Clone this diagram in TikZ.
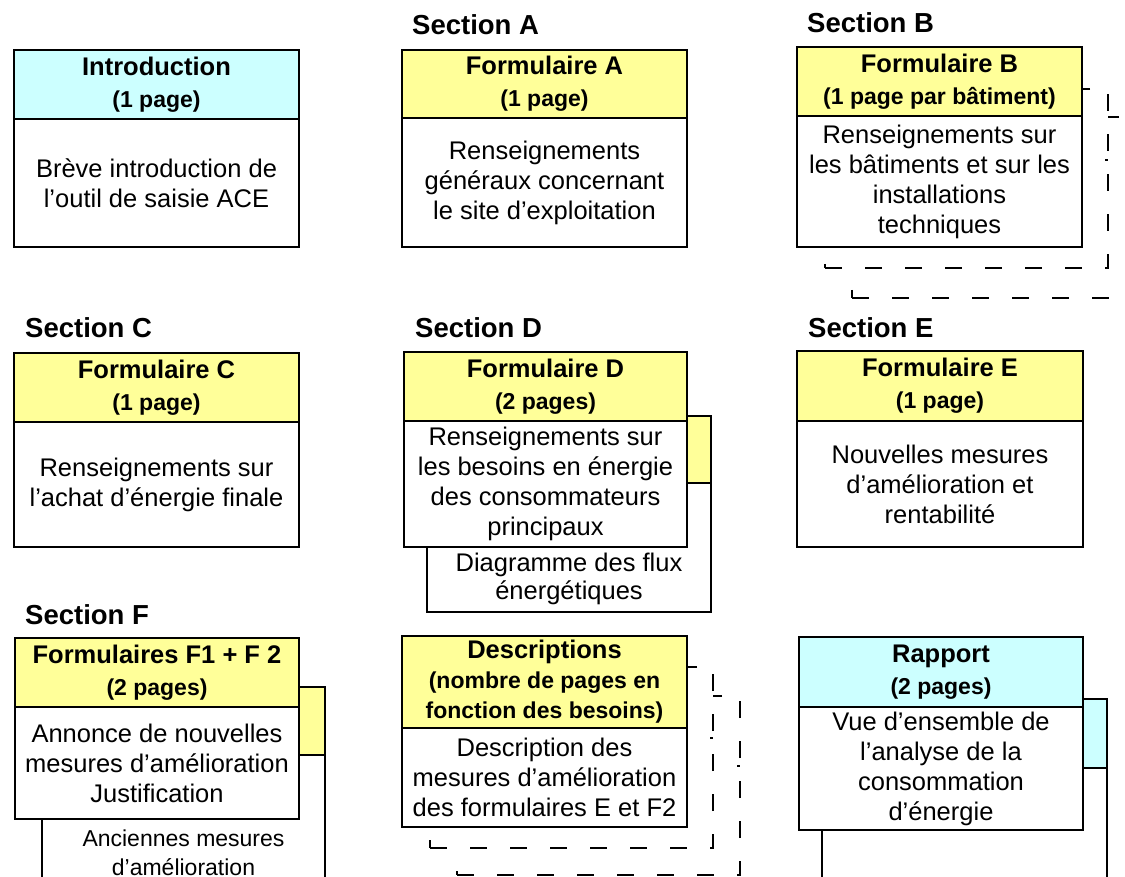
\documentclass[tikz,border=0pt]{standalone}
\usepackage{fontspec}
\setmainfont{Liberation Sans}
\definecolor{hyel}{RGB}{255,255,153}
\definecolor{hcyan}{RGB}{204,255,255}
\newcommand\subt[1]{{\fontsize{23}{32}\selectfont #1}}
\begin{document}
\begin{tikzpicture}[x=1pt,y=-1pt,
  box/.style={draw=black, line width=2.2pt, inner sep=0pt, outer sep=0pt, anchor=north west, align=center},
  hy/.style={box, fill=hyel, font=\fontsize{25.5}{32}\selectfont\bfseries},
  hc/.style={box, fill=hcyan, font=\fontsize{25.5}{32}\selectfont\bfseries},
  hyd/.style={box, fill=hyel, font=\fontsize{25.5}{30}\selectfont\bfseries},
  body/.style={box, fill=white, font=\fontsize{25.5}{30}\selectfont},
  plain/.style={inner sep=0pt, align=center, font=\fontsize{25.5}{28}\selectfont},
  small/.style={inner sep=0pt, align=center, font=\fontsize{23}{29}\selectfont},
  sec/.style={anchor=west, inner sep=0pt, font=\fontsize{27.5}{30}\selectfont\bfseries},
  ghost/.style={draw=black, line width=1.3pt, dash pattern=on 17pt off 23pt, fill=white, inner sep=0pt, outer sep=0pt, anchor=north west},
  ghostline/.style={draw=black, line width=1.3pt, dash pattern=on 17pt off 23pt}]
\useasboundingbox (0,0) rectangle (1125,877);
\clip (0,0) rectangle (1125,877);
\fill[white] (0,0) rectangle (1125,877);

% Introduction
\node[hc, minimum width=285pt, minimum height=69pt] (introH) at (14,50) {Introduction\\\subt{(1 page)}};
\node[body, minimum width=285pt, minimum height=128pt] (introB) at (14,119) {Brève introduction de\\l’outil de saisie ACE};

% Section A
\node[sec] (secA) at (412,25) {Section A};
\node[hy, minimum width=285pt, minimum height=68pt] (aH) at (402,50) {Formulaire A\\\subt{(1 page)}};
\node[body, minimum width=285pt, minimum height=129pt] (aB) at (402,118) {Renseignements\\généraux concernant\\le site d’exploitation};

% Section B
\node[sec] (secB) at (807,23) {Section B};
\node[ghost, minimum width=283pt, minimum height=181pt] (bG2) at (852,117) {};
\draw[ghostline] (bG2.west |- 0,188) -- (1140,188);
\node[ghost, minimum width=283pt, minimum height=179pt] (bG1) at (825,89) {};
\draw[ghostline] (bG1.west |- 0,160) -- (bG1.east |- 0,160);
\node[hy, minimum width=285pt, minimum height=69pt] (bH) at (797,47) {Formulaire B\\\subt{(1 page par bâtiment)}};
\node[body, minimum width=285pt, minimum height=131pt] (bB) at (797,116) {Renseignements sur\\les bâtiments et sur les\\installations\\techniques};

% Section C
\node[sec] (secC) at (25,328) {Section C};
\node[hy, minimum width=285pt, minimum height=69pt] (cH) at (14,353) {Formulaire C\\\subt{(1 page)}};
\node[body, minimum width=285pt, minimum height=125pt] (cB) at (14,422) {Renseignements sur\\l’achat d’énergie finale};

% Section D
\node[sec] (secD) at (415,328) {Section D};
\node[hy, minimum width=284pt, minimum height=67pt] (dbH) at (427,416) {};
\node[body, minimum width=284pt, minimum height=129pt] (dbB) at (427,483) {};
\node[plain] (dbT) at (569,579) {Diagramme des flux\\énergétiques};
\node[hy, minimum width=283pt, minimum height=69pt] (dH) at (404,352) {Formulaire D\\\subt{(2 pages)}};
\node[body, minimum width=283pt, minimum height=126pt] (dB) at (404,421) {Renseignements sur\\les besoins en énergie\\des consommateurs\\principaux};

% Section E
\node[sec] (secE) at (808,328) {Section E};
\node[hy, minimum width=286pt, minimum height=70pt] (eH) at (797,351) {Formulaire E\\\subt{(1 page)}};
\node[body, minimum width=286pt, minimum height=126pt] (eB) at (797,421) {Nouvelles mesures\\d’amélioration et\\rentabilité};

% Section F
\node[sec] (secF) at (25,615) {Section F};
\node[hy, minimum width=283pt, minimum height=68pt] (fbH) at (42,687) {};
\node[body, minimum width=283pt, minimum height=200pt] (fbB) at (42,755) {};
\node[small] (fbT) at (183.5,852.5) {Anciennes mesures\\d’amélioration};
\node[hy, minimum width=284pt, minimum height=69pt] (fH) at (15,638) {Formulaires F1 + F 2\\\subt{(2 pages)}};
\node[body, minimum width=284pt, minimum height=112pt] (fB) at (15,707) {Annonce de nouvelles\\mesures d’amélioration\\Justification};

% Descriptions
\node[ghost, minimum width=283pt, minimum height=179pt] (gG2) at (457,696) {};
\draw[ghostline] (gG2.west |- 0,766) -- (gG2.east |- 0,766);
\node[ghost, minimum width=283pt, minimum height=181pt] (gG1) at (430,667) {};
\draw[ghostline] (gG1.west |- 0,738) -- (gG1.east |- 0,738);
\node[hyd, minimum width=285pt, minimum height=92pt] (gH) at (402,636) {Descriptions\\\subt{(nombre de pages en}\\\subt{fonction des besoins)}};
\node[body, minimum width=285pt, minimum height=99pt] (gB) at (402,728) {Description des\\mesures d’amélioration\\des formulaires E et F2};

% Rapport
\node[hc, minimum width=285pt, minimum height=69pt] (rbH) at (822,699) {};
\node[body, minimum width=285pt, minimum height=200pt] (rbB) at (822,768) {};
\node[hc, minimum width=284pt, minimum height=70pt] (rH) at (799,637) {Rapport\\\subt{(2 pages)}};
\node[body, minimum width=284pt, minimum height=123pt] (rB) at (799,707) {Vue d’ensemble de\\l’analyse de la\\consommation\\d’énergie};
\end{tikzpicture}
\end{document}
